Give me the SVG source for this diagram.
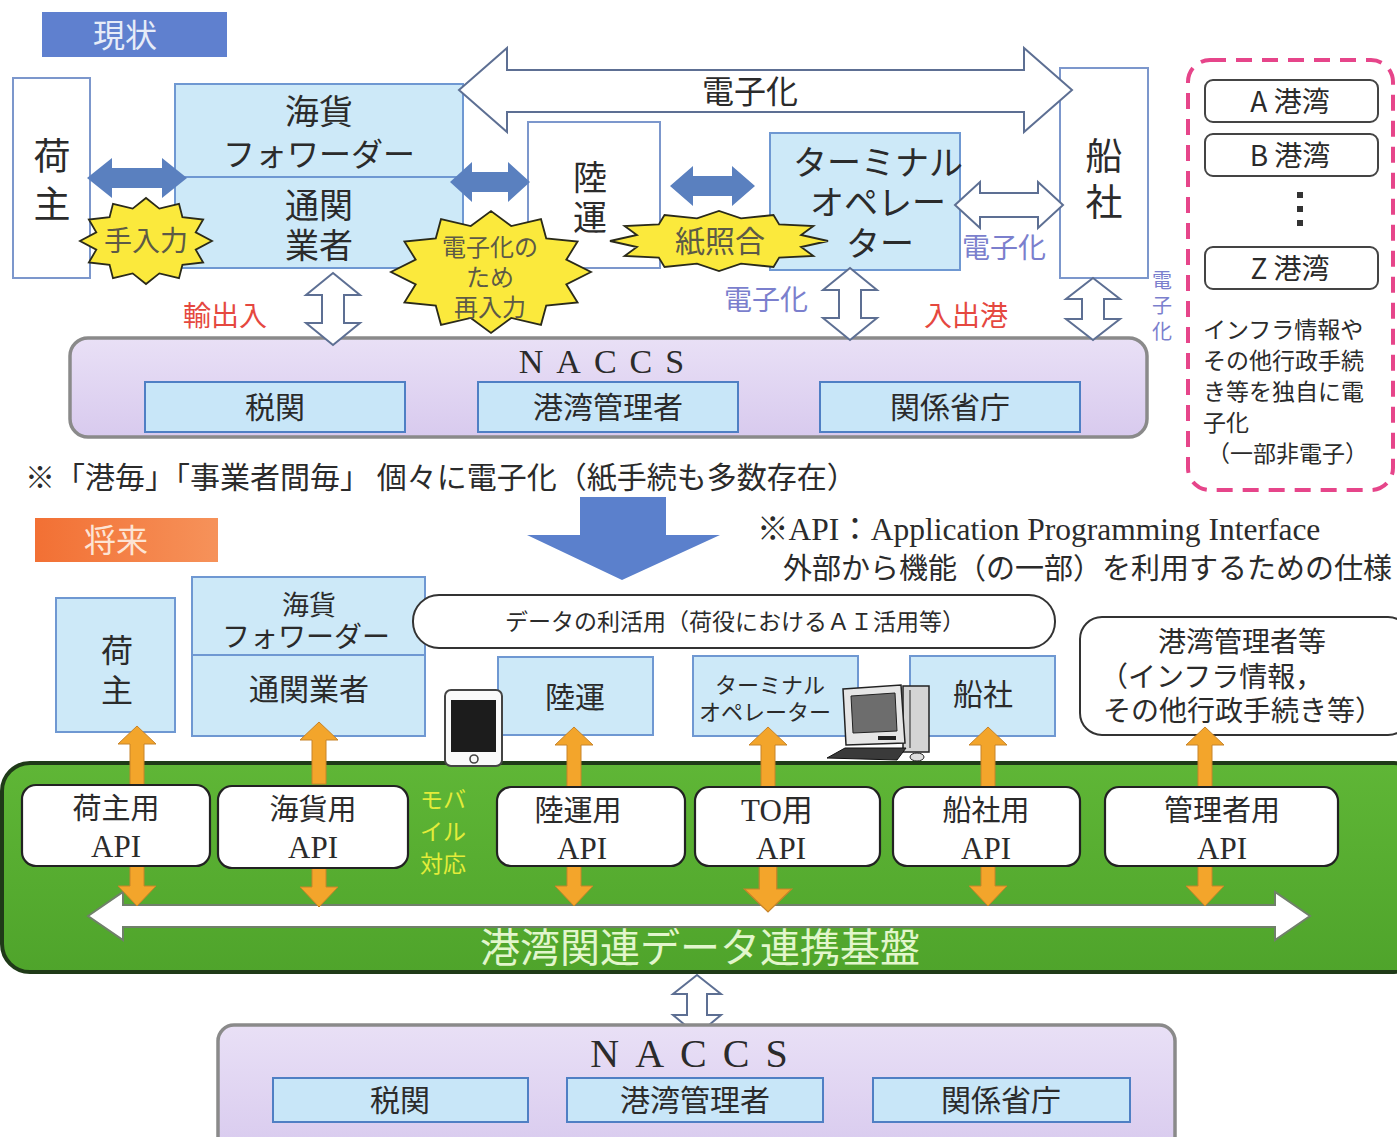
<svg xmlns="http://www.w3.org/2000/svg" width="1397" height="1137" viewBox="0 0 1397 1137">
  <style>
    .jp { font-family: "Noto Sans CJK JP", "Noto Sans CJK SC", sans-serif; fill: #2b2b2b; }
    .lat { font-family: "Liberation Serif", "Noto Sans CJK JP", serif; fill: #2b2b2b; }
    .mid { text-anchor: middle; }
    .plain { fill: #ffffff; stroke: #7c97cc; stroke-width: 2; }
    .blue { fill: #cde9f8; stroke: #6f98d2; stroke-width: 2; }
    .inner { fill: #c8e6f8; stroke: #4f7fc4; stroke-width: 2; }
    .naccs { fill: url(#lav); stroke: #8a8a8a; stroke-width: 3.5; }
    .burst { fill: #fbe93c; stroke: #2a2a1a; stroke-width: 1.8; }
    .bursttxt { fill: #5d5a46; }
    .solid { fill: #5a80bf; }
    .hollow { fill: #ffffff; stroke: #5d6f93; stroke-width: 2; }
    .port { fill: #ffffff; stroke: #444444; stroke-width: 2; }
    .api { fill: #ffffff; stroke: #222222; stroke-width: 2.2; }
    .orange { fill: #f3a52b; stroke: #c7842a; stroke-width: 1; }
    .red { fill: #e5483f; }
    .violet { fill: #7b7fcd; }
    .callout { fill: #ffffff; stroke: #333333; stroke-width: 2; }
  </style>
  <defs>
    <linearGradient id="lav" x1="0" y1="0" x2="0" y2="1">
      <stop offset="0" stop-color="#e9e0f6"/>
      <stop offset="1" stop-color="#d8caee"/>
    </linearGradient>
    <linearGradient id="grn" x1="0" y1="0" x2="0" y2="1">
      <stop offset="0" stop-color="#5fb636"/>
      <stop offset="1" stop-color="#4fa42b"/>
    </linearGradient>
    <linearGradient id="org" x1="0" y1="0" x2="1" y2="0">
      <stop offset="0" stop-color="#f27034"/>
      <stop offset="1" stop-color="#f6925a"/>
    </linearGradient>
    <!-- twelve-point starburst on a unit circle -->
    <path id="burst" vector-effect="non-scaling-stroke" d="M1,0 L.753,.202 L.866,.5 L.552,.552 L.5,.866 L.202,.753 L0,1 L-.202,.753 L-.5,.866 L-.552,.552 L-.866,.5 L-.753,.202 L-1,0 L-.753,-.202 L-.866,-.5 L-.552,-.552 L-.5,-.866 L-.202,-.753 L0,-1 L.202,-.753 L.5,-.866 L.552,-.552 L.866,-.5 L.753,-.202 Z"/>
    <path id="up" d="M-7,62 V18 H-19 L0,0 L19,18 H7 V62 Z"/>
    <path id="down" d="M-7,0 V20 H-19 L0,40 L19,20 H7 V0 Z"/>
  </defs>

  <rect width="1397" height="1137" fill="#ffffff"/>

  <!-- ===== current state ===== -->
  <g id="title-current">
    <rect x="42" y="12" width="185" height="45" fill="#5f80cf"/>
    <text x="125" y="47" class="jp mid" font-size="32" style="fill:#e6ecf8">現状</text>
  </g>

  <g id="cur-shipper">
    <rect x="13" y="78" width="77" height="200" class="plain"/>
    <text x="52" y="170" class="jp mid" font-size="37">荷</text>
    <text x="52" y="218" class="jp mid" font-size="37">主</text>
  </g>

  <g id="cur-forwarder">
    <rect x="175" y="84" width="288" height="184" class="blue"/>
    <line x1="175" y1="177" x2="463" y2="177" stroke="#6f98d2" stroke-width="2"/>
    <text x="319" y="124" class="jp mid" font-size="34">海貨</text>
    <text x="319" y="166" class="jp mid" font-size="32">フォワーダー</text>
    <text x="319" y="218" class="jp mid" font-size="34">通関</text>
    <text x="319" y="258" class="jp mid" font-size="34">業者</text>
  </g>

  <g id="cur-trucking">
    <rect x="528" y="122" width="132" height="146" class="plain"/>
    <text x="590" y="190" class="jp mid" font-size="34">陸</text>
    <text x="590" y="230" class="jp mid" font-size="34">運</text>
  </g>

  <g id="cur-terminal">
    <rect x="770" y="133" width="190" height="137" class="blue"/>
    <text x="878" y="175" class="jp mid" font-size="34">ターミナル</text>
    <text x="878" y="215" class="jp mid" font-size="34">オペレー</text>
    <text x="880" y="256" class="jp mid" font-size="34">ター</text>
  </g>

  <g id="cur-carrier">
    <rect x="1060" y="68" width="88" height="210" class="plain"/>
    <text x="1104" y="170" class="jp mid" font-size="37">船</text>
    <text x="1104" y="216" class="jp mid" font-size="37">社</text>
  </g>

  <g id="cur-naccs">
    <rect x="70" y="338" width="1077" height="99" rx="18" class="naccs"/>
    <text x="608" y="373" class="lat mid" font-size="34" letter-spacing="13">NACCS</text>
    <rect x="145" y="382" width="260" height="50" class="inner"/>
    <text x="275" y="418" class="jp mid" font-size="30">税関</text>
    <rect x="478" y="382" width="260" height="50" class="inner"/>
    <text x="608" y="418" class="jp mid" font-size="30">港湾管理者</text>
    <rect x="820" y="382" width="260" height="50" class="inner"/>
    <text x="950" y="418" class="jp mid" font-size="30">関係省庁</text>
  </g>

  <g id="ports">
    <rect x="1188" y="60" width="205" height="430" rx="22" fill="none" stroke="#e6458a" stroke-width="4" stroke-dasharray="16 10"/>
    <rect x="1205" y="80" width="173" height="42" rx="8" class="port"/>
    <text x="1290" y="112" class="jp mid" font-size="28">A 港湾</text>
    <rect x="1205" y="134" width="173" height="42" rx="8" class="port"/>
    <text x="1290" y="166" class="jp mid" font-size="28">B 港湾</text>
    <rect x="1297" y="192" width="6" height="6" fill="#333"/>
    <rect x="1297" y="206" width="6" height="6" fill="#333"/>
    <rect x="1297" y="220" width="6" height="6" fill="#333"/>
    <rect x="1205" y="247" width="173" height="42" rx="8" class="port"/>
    <text x="1290" y="279" class="jp mid" font-size="28">Z 港湾</text>
    <text x="1203" y="338" class="jp" font-size="23">インフラ情報や</text>
    <text x="1203" y="369" class="jp" font-size="23">その他行政手続</text>
    <text x="1203" y="400" class="jp" font-size="23">き等を独自に電</text>
    <text x="1203" y="431" class="jp" font-size="23">子化</text>
    <text x="1207" y="462" class="jp" font-size="23">（一部非電子）</text>
  </g>

  <!-- connectors of the current state -->
  <g id="cur-connectors">
    <polygon class="hollow" points="459,90 507,48 507,70 1024,70 1024,48 1072,90 1024,132 1024,112 507,112 507,132"/>
    <text x="750" y="103" class="jp mid" font-size="32">電子化</text>
    <polygon class="solid" points="87,178 112,158 112,168 162,168 162,158 187,178 162,198 162,188 112,188 112,198"/>
    <polygon class="solid" points="450,182 472,162 472,172 508,172 508,162 530,182 508,202 508,192 472,192 472,202"/>
    <polygon class="solid" points="670,186 693,166 693,176 732,176 732,166 755,186 732,206 732,196 693,196 693,206"/>
    <polygon class="hollow" points="955,205 980,182 980,193 1038,193 1038,182 1063,205 1038,228 1038,217 980,217 980,228"/>
    <polygon class="hollow" points="333,273 360,295 344,295 344,323 360,323 333,345 306,323 322,323 322,295 306,295"/>
    <polygon class="hollow" points="850,268 877,290 861,290 861,318 877,318 850,340 823,318 839,318 839,290 823,290"/>
    <polygon class="hollow" points="1093,278 1120,299 1104,299 1104,319 1120,319 1093,340 1066,319 1082,319 1082,299 1066,299"/>
    <text x="225" y="326" class="jp mid red" font-size="28">輸出入</text>
    <text x="766" y="310" class="jp mid violet" font-size="28">電子化</text>
    <text x="966" y="326" class="jp mid red" font-size="28">入出港</text>
    <text x="1004" y="258" class="jp mid violet" font-size="28">電子化</text>
    <text x="1162" y="288" class="jp mid violet" font-size="20">電</text>
    <text x="1162" y="313" class="jp mid violet" font-size="20">子</text>
    <text x="1162" y="339" class="jp mid violet" font-size="20">化</text>
  </g>

  <g id="burst-manual">
    <use href="#burst" class="burst" transform="translate(146 241) scale(66 43)"/>
    <text x="146" y="251" class="jp mid bursttxt" font-size="28">手入力</text>
  </g>
  <g id="burst-reentry">
    <use href="#burst" class="burst" transform="translate(491 272) scale(100 61)"/>
    <text x="490" y="256" class="jp mid bursttxt" font-size="24">電子化の</text>
    <text x="490" y="286" class="jp mid bursttxt" font-size="24">ため</text>
    <text x="490" y="316" class="jp mid bursttxt" font-size="24">再入力</text>
  </g>
  <g id="burst-paper">
    <use href="#burst" class="burst" transform="translate(719 241) scale(109 30)"/>
    <text x="720" y="252" class="jp mid bursttxt" font-size="30">紙照合</text>
  </g>

  <text x="25" y="488" class="jp" font-size="30">※「港毎」「事業者間毎」 個々に電子化（紙手続も多数存在）</text>

  <!-- transition arrow -->
  <polygon points="580,497 666,497 666,535 720,535 622,580 527,535 580,535" fill="#5b80cc"/>

  <g id="api-note">
    <text x="757" y="540" class="lat" font-size="31.5">※API：Application Programming Interface</text>
    <text x="783" y="579" class="jp" font-size="29">外部から機能（の一部）を利用するための仕様</text>
  </g>

  <!-- ===== future state ===== -->
  <g id="title-future">
    <rect x="35" y="518" width="183" height="44" fill="url(#org)"/>
    <text x="116" y="552" class="jp mid" font-size="32" style="fill:#fde4d4">将来</text>
  </g>

  <g id="fut-shipper">
    <rect x="56" y="598" width="119" height="134" class="blue"/>
    <text x="117" y="662" class="jp mid" font-size="32">荷</text>
    <text x="117" y="702" class="jp mid" font-size="32">主</text>
  </g>

  <g id="fut-forwarder">
    <rect x="192" y="577" width="233" height="159" class="blue"/>
    <line x1="192" y1="655" x2="425" y2="655" stroke="#6f98d2" stroke-width="2"/>
    <text x="309" y="615" class="jp mid" font-size="27">海貨</text>
    <text x="306" y="647" class="jp mid" font-size="28">フォワーダー</text>
    <text x="309" y="700" class="jp mid" font-size="30">通関業者</text>
  </g>

  <g id="fut-data-use">
    <rect x="413" y="595" width="642" height="53" rx="26" class="callout"/>
    <text x="735" y="630" class="jp mid" font-size="23">データの利活用（荷役におけるＡＩ活用等）</text>
  </g>

  <g id="fut-trucking">
    <rect x="498" y="657" width="155" height="78" class="blue"/>
    <text x="575" y="708" class="jp mid" font-size="30">陸運</text>
  </g>

  <g id="fut-terminal">
    <rect x="693" y="656" width="165" height="80" class="blue"/>
    <text x="770" y="693" class="jp mid" font-size="22">ターミナル</text>
    <text x="765" y="720" class="jp mid" font-size="22">オペレーター</text>
  </g>

  <g id="fut-carrier">
    <rect x="910" y="656" width="145" height="80" class="blue"/>
    <text x="983" y="705" class="jp mid" font-size="30">船社</text>
  </g>

  <g id="fut-port-admin">
    <rect x="1080" y="617" width="330" height="118" rx="22" class="callout"/>
    <text x="1242" y="652" class="jp mid" font-size="28">港湾管理者等</text>
    <text x="1100" y="687" class="jp" font-size="28">（インフラ情報，</text>
    <text x="1103" y="721" class="jp" font-size="28">その他行政手続き等）</text>
  </g>

  <g id="platform">
    <rect x="2" y="763" width="1420" height="209" rx="28" fill="url(#grn)" stroke="#1f3a18" stroke-width="4"/>
    <text x="700" y="962" class="jp mid" font-size="40" style="fill:#e2f6cc">港湾関連データ連携基盤</text>
    <text x="420" y="808" class="jp" font-size="23" style="fill:#e3ec3a">モバ</text>
    <text x="420" y="840" class="jp" font-size="23" style="fill:#e3ec3a">イル</text>
    <text x="420" y="872" class="jp" font-size="23" style="fill:#e3ec3a">対応</text>
  </g>

  <g id="phone">
    <rect x="445" y="690" width="57" height="76" rx="6" fill="#fafafa" stroke="#444" stroke-width="2"/>
    <rect x="451" y="700" width="45" height="52" fill="#1c1c1c"/>
    <circle cx="474" cy="759" r="4" fill="none" stroke="#444" stroke-width="1.6"/>
  </g>

  <g id="computer">
    <rect x="903" y="686" width="26" height="66" fill="#d4d4d4" stroke="#222" stroke-width="1.5"/>
    <line x1="910" y1="690" x2="910" y2="748" stroke="#222" stroke-width="1"/>
    <polygon points="843,689 901,685 905,743 846,745" fill="#e6e6e6" stroke="#222" stroke-width="1.5"/>
    <polygon points="851,696 895,693 897,731 853,733" fill="#6d6d6d" stroke="#222" stroke-width="1"/>
    <rect x="878" y="736" width="18" height="4" fill="#222"/>
    <polygon points="827,758 845,748 906,748 897,760" fill="#3a3a3a" stroke="#111" stroke-width="1"/>
    <ellipse cx="917" cy="757" rx="7" ry="4" fill="#ddd" stroke="#222" stroke-width="1"/>
  </g>

  <!-- connectors of the future state -->
  <g id="fut-connectors">
    <use href="#up" class="orange" transform="translate(137 726)"/>
    <use href="#up" class="orange" transform="translate(319 722)"/>
    <use href="#up" class="orange" transform="translate(574 727)"/>
    <use href="#up" class="orange" transform="translate(768 727)"/>
    <use href="#up" class="orange" transform="translate(988 727)"/>
    <use href="#up" class="orange" transform="translate(1205 727)"/>
    <polygon class="hollow" style="stroke:#70806a" points="88,916 123,892 123,905 1275,905 1275,892 1310,916 1275,940 1275,927 123,927 123,940"/>
    <use href="#down" class="orange" transform="translate(137 866)"/>
    <use href="#down" class="orange" transform="translate(319 867)"/>
    <use href="#down" class="orange" transform="translate(574 866)"/>
    <use href="#down" class="orange" transform="translate(768 866) scale(1.25 1.15)"/>
    <use href="#down" class="orange" transform="translate(988 866)"/>
    <use href="#down" class="orange" transform="translate(1205 866)"/>
    <polygon class="hollow" points="697,975 721,994 707,994 707,1015 721,1015 697,1035 673,1015 687,1015 687,994 673,994"/>
  </g>

  <g id="api-shipper">
    <rect x="22" y="785" width="188" height="81" rx="14" class="api"/>
    <text x="116" y="819" class="jp mid" font-size="29">荷主用</text>
    <text x="116" y="857" class="lat mid" font-size="31">API</text>
  </g>
  <g id="api-forwarder">
    <rect x="218" y="786" width="190" height="82" rx="14" class="api"/>
    <text x="313" y="820" class="jp mid" font-size="29">海貨用</text>
    <text x="313" y="858" class="lat mid" font-size="31">API</text>
  </g>
  <g id="api-trucking">
    <rect x="497" y="787" width="188" height="79" rx="14" class="api"/>
    <text x="578" y="821" class="jp mid" font-size="29">陸運用</text>
    <text x="582" y="859" class="lat mid" font-size="31">API</text>
  </g>
  <g id="api-terminal">
    <rect x="695" y="787" width="185" height="79" rx="14" class="api"/>
    <text x="777" y="821" class="lat mid" font-size="31">TO用</text>
    <text x="781" y="859" class="lat mid" font-size="31">API</text>
  </g>
  <g id="api-carrier">
    <rect x="893" y="787" width="187" height="79" rx="14" class="api"/>
    <text x="986" y="821" class="jp mid" font-size="29">船社用</text>
    <text x="986" y="859" class="lat mid" font-size="31">API</text>
  </g>
  <g id="api-admin">
    <rect x="1105" y="787" width="233" height="79" rx="14" class="api"/>
    <text x="1222" y="821" class="jp mid" font-size="29">管理者用</text>
    <text x="1222" y="859" class="lat mid" font-size="31">API</text>
  </g>

  <g id="fut-naccs">
    <rect x="218" y="1025" width="957" height="130" rx="16" class="naccs"/>
    <text x="697" y="1067" class="lat mid" font-size="40" letter-spacing="16">NACCS</text>
    <rect x="273" y="1078" width="255" height="44" class="inner"/>
    <text x="400" y="1111" class="jp mid" font-size="30">税関</text>
    <rect x="567" y="1078" width="256" height="44" class="inner"/>
    <text x="695" y="1111" class="jp mid" font-size="30">港湾管理者</text>
    <rect x="873" y="1078" width="257" height="44" class="inner"/>
    <text x="1001" y="1111" class="jp mid" font-size="30">関係省庁</text>
  </g>
</svg>
